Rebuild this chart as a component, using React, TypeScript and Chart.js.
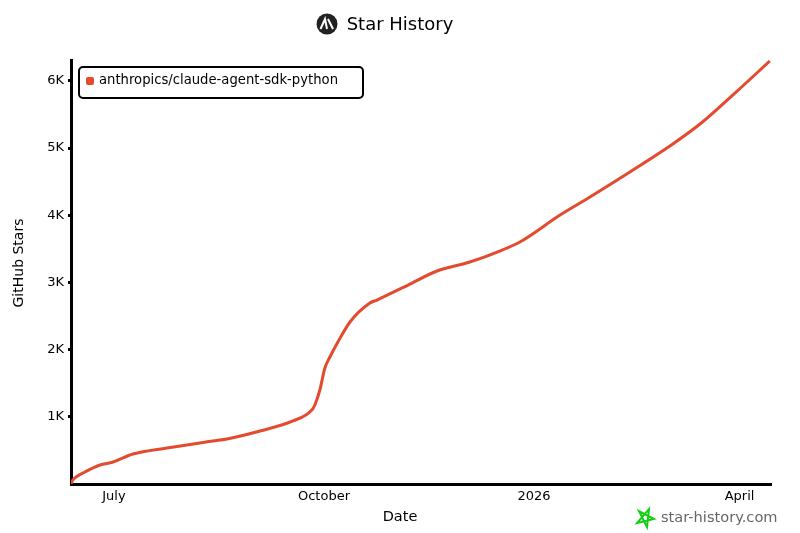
import React, { useEffect, useRef } from "react";
import { Chart, registerables } from "chart.js";

Chart.register(...registerables);

const SERIES_NAME = "anthropics/claude-agent-sdk-python";
// days since 1 July 2025
const days = [-18.8, -18, -16.6, -12.7, -6.1, -0.4, 8.3, 23.2, 43.4, 49.5, 64, 78.4, 86.7, 88, 90.2, 92.4, 94.6, 98.1, 103.4, 112.1, 115.2, 128.8, 141.5, 155.9, 169, 177.8, 195.4, 208.5, 226, 243.5, 256.7, 272, 287.3];
const stars = [0, 60, 104, 179, 283, 327, 446, 536, 640, 670, 789, 938, 1101, 1176, 1399, 1726, 1890, 2113, 2411, 2693, 2738, 2961, 3170, 3304, 3467, 3601, 4003, 4271, 4643, 5030, 5357, 5818, 6295];
const xTickDays = [0, 92, 184, 274];
const xTickLabels = ["July", "October", "2026", "April"];
const yTickValues = [1000, 2000, 3000, 4000, 5000, 6000];
const yTickLabels = ["1K", "2K", "3K", "4K", "5K", "6K"];

const FONT = "'DejaVu Sans', sans-serif";
const RED = "#e34a2e";

const decor = {
  id: "decor",
  afterDraw(chart: any) {
    const c = chart.ctx;
    c.save();
    // legend box
    c.strokeStyle = "#000";
    c.lineWidth = 2;
    c.beginPath();
    c.roundRect(79, 67, 284, 31, 4);
    c.stroke();
    c.fillStyle = RED;
    c.beginPath();
    c.roundRect(86, 77, 8, 8, 2);
    c.fill();
    c.fillStyle = "#000";
    c.font = `13.2px ${FONT}`;
    c.textAlign = "left";
    c.textBaseline = "middle";
    c.fillText(SERIES_NAME, 99, 80.5);
    // axis titles
    c.font = `14.5px ${FONT}`;
    c.textAlign = "center";
    c.fillText("Date", 400, 517);
    c.save();
    c.translate(19, 263);
    c.rotate(-Math.PI / 2);
    c.font = `14px ${FONT}`;
    c.fillText("GitHub Stars", 0, 0);
    c.restore();
    // title logo
    c.fillStyle = "#222";
    c.beginPath();
    c.arc(327, 24, 10.5, 0, Math.PI * 2);
    c.fill();
    c.strokeStyle = "#fff";
    c.lineWidth = 2;
    c.beginPath();
    c.moveTo(320.5, 29);
    c.lineTo(325, 19);
    c.lineTo(327, 29);
    c.moveTo(328, 19);
    c.lineTo(333, 29);
    c.stroke();
    // watermark
    c.strokeStyle = "#12cf12";
    c.lineWidth = 2;
    c.beginPath();
    c.moveTo(649, 509);
    c.lineTo(647, 527);
    c.lineTo(639, 511);
    c.lineTo(654, 519);
    c.lineTo(637, 523);
    c.closePath();
    c.stroke();
    c.fillStyle = "#666";
    c.font = `14.6px ${FONT}`;
    c.textAlign = "left";
    c.fillText("star-history.com", 661, 518);
    c.restore();
  },
};

export default function App() {
  const ref = useRef<HTMLCanvasElement>(null);
  useEffect(() => {
    const chart = new Chart(ref.current!, {
      type: "line",
      data: {
        datasets: [
          {
            label: SERIES_NAME,
            data: days.map((d, i) => ({ x: d, y: stars[i] })),
            borderColor: RED,
            backgroundColor: RED,
            borderWidth: 3,
            pointRadius: 0,
            cubicInterpolationMode: "monotone",
          },
        ],
      },
      options: {
        responsive: false,
        animation: false,
        layout: { padding: { top: 0, left: 29, right: 29, bottom: 0 } },
        plugins: {
          legend: { display: false },
          tooltip: { enabled: false },
          title: {
            display: true,
            text: "Star History",
            color: "#000",
            font: { family: FONT, size: 18, weight: "normal", lineHeight: 1.2 },
            padding: { top: 15, bottom: 23.4 },
          },
        },
        scales: {
          x: {
            type: "linear",
            min: -18.8,
            max: 287.8,
            afterFit: (s: any) => { s.height = 49; },
            afterBuildTicks: (s: any) => { s.ticks = xTickDays.map((v) => ({ value: v })); },
            grid: { display: false },
            border: { color: "#000", width: 3 },
            ticks: {
              color: "#000",
              font: { family: FONT, size: 13 },
              padding: -3,
              maxRotation: 0,
              callback: (v: any) => xTickLabels[xTickDays.indexOf(v)] ?? "",
            },
          },
          y: {
            type: "linear",
            min: 0,
            max: 6310,
            afterFit: (s: any) => { s.width = 42; },
            afterBuildTicks: (s: any) => { s.ticks = yTickValues.map((v) => ({ value: v })); },
            grid: { drawOnChartArea: false, drawTicks: true, tickLength: 3, tickWidth: 3, color: "#000" },
            border: { color: "#000", width: 3 },
            ticks: {
              color: "#000",
              font: { family: FONT, size: 13 },
              padding: 4,
              callback: (v: any) => yTickLabels[yTickValues.indexOf(v)] ?? "",
            },
          },
        },
      },
      plugins: [decor],
    } as any);
    return () => chart.destroy();
  }, []);
  return (
    <canvas
      ref={ref}
      width={800}
      height={533}
      style={{ position: "absolute", left: 0, top: 0, width: 800, height: 533, display: "block" }}
    />
  );
}
